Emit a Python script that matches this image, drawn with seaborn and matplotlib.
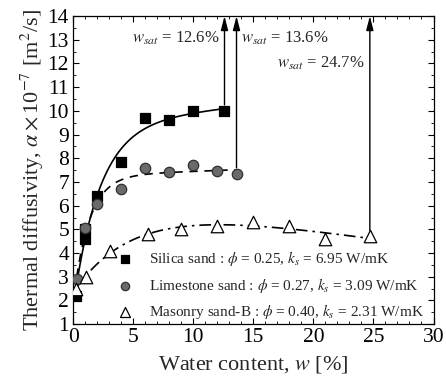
import numpy as np
import pandas as pd
import matplotlib
matplotlib.use("Agg")
import matplotlib.pyplot as plt
from matplotlib.ticker import MultipleLocator
import seaborn as sns

# Measured thermal diffusivity (x1e-7 m^2/s) versus water content (%)
silica_w = [0.2, 1.0, 1.0, 2.0, 4.0, 6.0, 8.0, 10.0, 12.6]
silica_a = [2.2, 4.6, 5.0, 6.4, 7.85, 9.7, 9.6, 10.0, 10.0]

lime_w = [0.3, 1.0, 2.0, 4.0, 6.0, 8.0, 10.0, 12.0, 13.6]
lime_a = [2.9, 5.05, 6.05, 6.7, 7.6, 7.4, 7.7, 7.45, 7.35]

mason_w = [0.2, 1.1, 3.1, 6.2, 9.0, 12.0, 15.0, 18.0, 21.0, 24.7]
mason_a = [2.5, 3.0, 4.1, 4.8, 5.0, 5.15, 5.3, 5.15, 4.6, 4.7]

labels = [
    r"Silica sand : $\phi$ = 0.25, $k_s$ = 6.95 W/mK",
    r"Limestone sand : $\phi$ = 0.27, $k_s$ = 3.09 W/mK",
    r"Masonry sand-B : $\phi$ = 0.40, $k_s$ = 2.31 W/mK",
]
w_sat = [12.6, 13.6, 24.7]
w_sat_text = [r"$w_{sat}$ = 12.6%", r"$w_{sat}$ = 13.6%", r"$w_{sat}$ = 24.7%"]


def fit_curve(w, a, w_end, n=200):
    """Least-squares fit of a - b*exp(-w/tau) + c*w, tau by grid search."""
    w = np.asarray(w, float)
    a = np.asarray(a, float)
    best = None
    for tau in np.linspace(0.5, 8.0, 151):
        X = np.column_stack([np.ones_like(w), -np.exp(-w / tau), w])
        coef, *_ = np.linalg.lstsq(X, a, rcond=None)
        err = np.sum((X @ coef - a) ** 2)
        if best is None or err < best[0]:
            best = (err, tau, coef)
    _, tau, coef = best
    ww = np.linspace(w.min(), w_end, n)
    return ww, coef[0] - coef[1] * np.exp(-ww / tau) + coef[2] * ww


sns.set_theme(style="ticks")
plt.rcParams["font.family"] = ["Liberation Serif", "DejaVu Serif"]
plt.rcParams["mathtext.fontset"] = "stix"
plt.rcParams["xtick.direction"] = "in"
plt.rcParams["ytick.direction"] = "in"

fig = plt.figure(figsize=(4.46, 3.92), dpi=100)
ax = fig.add_axes([0.164, 0.173, 0.808, 0.786])

series = [
    (silica_w, silica_a, "s", "black", "black", 7, "-", w_sat[0]),
    (lime_w, lime_a, "o", "#6a6a6a", "#303030", 7.5, (0, (5, 4)), w_sat[1]),
    (mason_w, mason_a, "^", "white", "black", 9, (0, (7, 3, 1.5, 3)), w_sat[2]),
]

for (w, a, mk, fc, ec, ms, ls, we), lab in zip(series, labels):
    cw, ca = fit_curve(w, a, we)
    sns.lineplot(x=cw, y=ca, ax=ax, color="black", lw=1.2, linestyle=ls,
                 sort=False, legend=False)
    df = pd.DataFrame({"w": w, "a": a})
    sns.scatterplot(data=df, x="w", y="a", ax=ax, marker=mk, s=ms ** 2,
                    color=fc, edgecolor=ec, linewidth=0.9, label=lab, zorder=5)

# Saturation arrows rising from the last point of each series to the top
ends = [silica_a[-1], lime_a[-1], mason_a[-1]]
for we, ye in zip(w_sat, ends):
    ax.annotate("", xy=(we, 14.0), xytext=(we, ye + 0.25),
                arrowprops=dict(arrowstyle="-|>,head_length=0.7,head_width=0.18",
                                color="black", lw=1.0, shrinkA=0, shrinkB=0))

ax.text(12.2, 13.05, w_sat_text[0], ha="right", va="center", fontsize=12)
ax.text(14.0, 13.05, w_sat_text[1], ha="left", va="center", fontsize=12)
ax.text(24.3, 12.0, w_sat_text[2], ha="right", va="center", fontsize=12)

ax.set_xlim(0, 30)
ax.set_ylim(1, 14)
ax.xaxis.set_major_locator(MultipleLocator(5))
ax.xaxis.set_minor_locator(MultipleLocator(1))
ax.yaxis.set_major_locator(MultipleLocator(1))
ax.yaxis.set_minor_locator(MultipleLocator(0.5))
ax.tick_params(which="both", top=True, right=True, colors="black")
ax.tick_params(which="major", length=4, width=0.8, labelsize=15.5, pad=3)
ax.tick_params(which="minor", length=2, width=0.6)
for sp in ax.spines.values():
    sp.set_color("black")
    sp.set_linewidth(0.9)

ax.set_xlabel(r"Water content, $w$ [%]", fontsize=16, labelpad=5)
ax.set_ylabel(r"Thermal diffusivity, $\alpha\times$10$^{-7}$ [m$^2$/s]",
              fontsize=16, labelpad=1)

leg = ax.legend(loc="lower right", bbox_to_anchor=(1.0, -0.02), frameon=False,
                fontsize=11, handletextpad=0.6, labelspacing=0.5,
                borderaxespad=0.2, markerscale=0.8)

fig.savefig("out.png", dpi=100)
